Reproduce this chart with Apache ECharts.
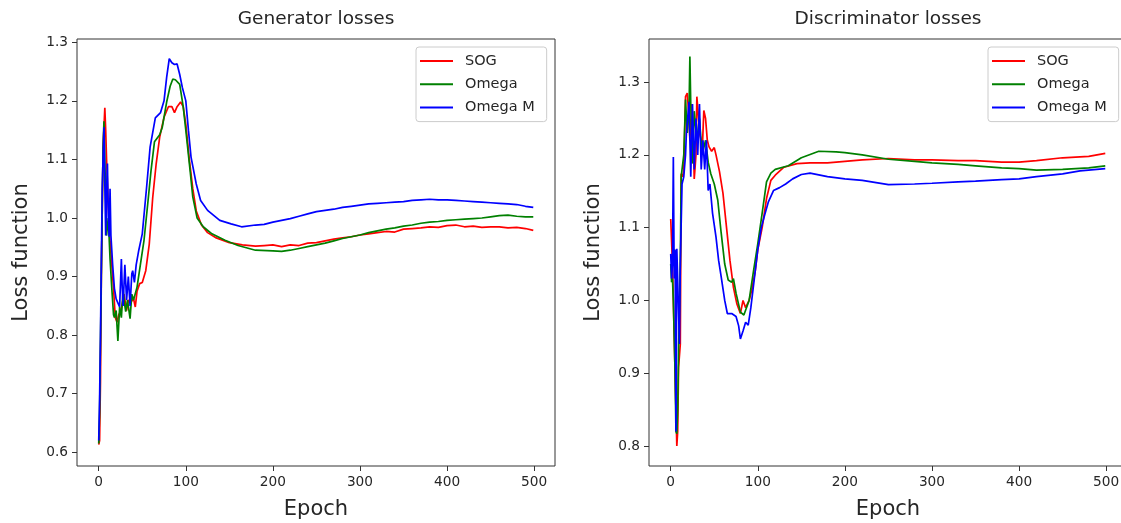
<!DOCTYPE html>
<html>
<head>
<meta charset="utf-8">
<script src="https://cdn.jsdelivr.net/npm/echarts@6/dist/echarts.min.js"></script>
<style>
html,body{margin:0;padding:0;background:#fff;}
#chart{width:1121px;height:523px;}
</style>
</head>
<body>
<div id="chart"></div>
<script>
// ---------- data ----------
const seriesNames = ['SOG', 'Omega', 'Omega M'];
const xTicks = [0, 100, 200, 300, 400, 500];
const genYTicks = [0.6, 0.7, 0.8, 0.9, 1.0, 1.1, 1.2, 1.3];
const discYTicks = [0.8, 0.9, 1.0, 1.1, 1.2, 1.3];

// Generator losses
const genSOG_x = [0,1,2,3,5,7,8,9,11,13,15,17,19,21,23,25,27,29,30,32,34,36,38,40,42,44,47,50,54,58,62,66,70,75,80,84,87,90,94,97,100,104,108,112,118,125,135,150,165,180,190,200,210,220,230,240,250,260,270,280,290,300,310,320,330,340,350,360,370,380,390,400,410,420,430,440,450,460,470,480,490,499];
const genSOG_y = [0.613,0.62,0.72,0.9,1.12,1.188,1.15,1.1,1.02,0.96,0.92,0.88,0.83,0.822,0.835,0.84,0.853,0.87,0.871,0.842,0.86,0.855,0.852,0.862,0.848,0.875,0.888,0.89,0.91,0.955,1.035,1.093,1.138,1.172,1.19,1.19,1.18,1.19,1.198,1.19,1.16,1.1,1.05,1.012,0.988,0.975,0.966,0.958,0.954,0.952,0.953,0.954,0.951,0.954,0.953,0.957,0.958,0.961,0.964,0.966,0.968,0.971,0.973,0.975,0.977,0.976,0.981,0.982,0.983,0.985,0.984,0.987,0.988,0.985,0.986,0.984,0.985,0.985,0.983,0.984,0.982,0.979];

const genOmega_x = [0,1,3,5,6,7,9,11,13,15,17,18,20,22,24,26,28,30,31,33,36,38,40,44,48,52,56,60,64,70,73,78,82,85,88,93,97,100,105,108,113,120,130,145,160,180,200,210,220,230,240,250,260,270,280,290,300,310,320,330,340,350,360,370,380,390,400,410,420,430,440,450,460,470,480,490,499];
const genOmega_y = [0.615,0.668,0.9,1.12,1.165,1.1,0.97,1.0,0.93,0.88,0.835,0.83,0.842,0.79,0.848,0.83,0.877,0.85,0.84,0.86,0.828,0.87,0.86,0.882,0.922,0.962,1.02,1.08,1.13,1.142,1.155,1.198,1.225,1.237,1.236,1.228,1.19,1.15,1.08,1.036,1.0,0.985,0.973,0.962,0.953,0.945,0.944,0.943,0.945,0.948,0.951,0.954,0.957,0.961,0.965,0.968,0.971,0.975,0.978,0.981,0.983,0.986,0.988,0.991,0.993,0.994,0.996,0.997,0.998,0.999,1.0,1.002,1.004,1.005,1.003,1.002,1.002];

const genOmegaM_x = [0,1,2,4,6,7,8,9,10,11,12,13,14,16,18,20,22,24,26,27,28,30,32,34,36,38,39,41,43,46,50,55,59,65,71,75,78,81,84,87,90,93,96,100,103,106,112,117,125,139,152,164,180,190,200,210,220,230,240,250,260,270,280,290,300,310,320,330,340,350,360,370,380,390,400,410,420,430,440,450,460,470,480,490,499];
const genOmegaM_y = [0.62,0.69,0.8,1.05,1.155,1.06,0.97,1.05,1.093,1.0,0.968,1.05,0.97,0.92,0.88,0.862,0.86,0.848,0.93,0.88,0.85,0.92,0.86,0.9,0.85,0.905,0.91,0.89,0.92,0.945,0.973,1.053,1.121,1.171,1.18,1.2,1.24,1.272,1.265,1.262,1.263,1.245,1.223,1.2,1.15,1.104,1.058,1.03,1.013,0.996,0.99,0.985,0.988,0.989,0.993,0.996,0.999,1.003,1.007,1.011,1.013,1.015,1.018,1.02,1.022,1.024,1.025,1.026,1.027,1.028,1.03,1.031,1.032,1.031,1.031,1.03,1.029,1.028,1.027,1.026,1.025,1.024,1.023,1.02,1.018];

// Discriminator losses
const discSOG_x = [0,2,4,6,7,8,9,10,11,12,14,15,17,19,21,22,24,26,27,29,30,32,33,35,36,38,40,42,44,47,50,52,56,60,64,68,72,76,80,83,86,90,93,97,100,105,110,115,120,130,145,160,180,200,220,250,280,300,330,350,380,400,420,450,480,499];
const discSOG_y = [1.112,1.05,0.95,0.85,0.80,0.82,0.908,0.91,0.94,1.174,1.17,1.18,1.28,1.285,1.25,1.22,1.27,1.22,1.167,1.2,1.28,1.25,1.23,1.22,1.2,1.261,1.25,1.22,1.211,1.205,1.21,1.2,1.177,1.147,1.101,1.055,1.018,0.995,0.982,1.0,0.99,1.0,1.014,1.04,1.07,1.1,1.14,1.165,1.172,1.183,1.188,1.189,1.189,1.191,1.193,1.195,1.193,1.193,1.192,1.192,1.19,1.19,1.192,1.196,1.198,1.202];

const discOmega_x = [0,1,2,3,5,6,7,8,9,11,12,14,15,17,19,21,22,23,25,27,30,33,36,40,43,46,50,54,58,62,66,70,72,75,80,84,87,90,95,100,105,110,115,120,135,150,170,190,200,220,250,280,300,330,350,380,400,420,450,480,499];
const discOmega_y = [1.05,1.025,1.03,1.0,0.9,0.82,0.817,0.85,0.93,1.05,1.17,1.19,1.2,1.276,1.23,1.26,1.335,1.27,1.188,1.26,1.22,1.25,1.2,1.22,1.19,1.174,1.16,1.138,1.092,1.05,1.028,1.025,1.03,1.01,0.984,0.98,0.99,1.0,1.04,1.078,1.12,1.163,1.175,1.18,1.185,1.196,1.205,1.204,1.203,1.2,1.194,1.191,1.189,1.187,1.185,1.182,1.181,1.179,1.18,1.182,1.185];

const discOmegaM_x = [0,1,2,3,4,5,6,7,9,10,11,13,15,17,18,21,23,25,27,29,31,33,35,37,39,41,43,45,48,52,55,58,62,65,70,75,78,80,83,86,89,92,96,100,104,108,112,118,125,132,140,150,160,180,200,220,250,280,300,330,350,380,400,420,450,470,499];
const discOmegaM_y = [1.064,1.03,1.05,1.197,1.03,1.07,0.82,1.071,1.07,0.94,1.05,1.16,1.17,1.2,1.23,1.273,1.17,1.27,1.18,1.25,1.2,1.27,1.18,1.22,1.18,1.22,1.151,1.16,1.12,1.087,1.055,1.032,1.0,0.982,0.982,0.978,0.965,0.947,0.958,0.97,0.966,0.99,1.03,1.07,1.1,1.118,1.135,1.151,1.155,1.16,1.167,1.173,1.175,1.17,1.167,1.165,1.159,1.16,1.161,1.163,1.164,1.166,1.167,1.17,1.174,1.178,1.181];

// ---------- chart ----------
const zip = (xs, ys) => xs.map((x, i) => [x, ys[i]]);
const colors = ['#ff0000', '#008000', '#0000ff'];
const FONT = 'DejaVu Sans';
const TXT = '#262626';

function xAxisCfg(gi) {
  return {
    type: 'value', gridIndex: gi, min: -24.95, max: 523.95,
    name: 'Epoch', nameLocation: 'middle', nameGap: 33,
    nameTextStyle: {fontFamily: FONT, fontSize: 21, color: TXT},
    axisLine: {show: false, onZero: false},
    axisTick: {show: true, inside: false, length: 5, customValues: xTicks, lineStyle: {color: '#333', width: 1}},
    axisLabel: {show: true, customValues: xTicks, margin: 9, fontFamily: FONT, fontSize: 13.7, color: TXT},
    splitLine: {show: false}
  };
}
function yAxisCfg(gi, min, max, ticks) {
  return {
    type: 'value', gridIndex: gi, min: min, max: max,
    name: 'Loss function', nameLocation: 'middle', nameGap: 45, nameRotate: 90,
    nameTextStyle: {fontFamily: FONT, fontSize: 21, color: TXT},
    axisLine: {show: false, onZero: false},
    axisTick: {show: true, inside: false, length: 5, customValues: ticks, lineStyle: {color: '#333', width: 1}},
    axisLabel: {show: true, customValues: ticks, margin: 9, fontFamily: FONT, fontSize: 13.7, color: TXT,
      formatter: v => v.toFixed(1)},
    splitLine: {show: false}
  };
}
function legendCfg(left) {
  return {
    show: true, orient: 'vertical', left: left, top: 47,
    data: seriesNames,
    icon: 'rect', itemWidth: 33, itemHeight: 2, itemGap: 7.3,
    padding: [6, 12, 6, 4],
    backgroundColor: 'rgba(255,255,255,0.8)', borderColor: '#cccccc', borderWidth: 1, borderRadius: 3,
    textStyle: {fontFamily: FONT, fontSize: 14.5, color: TXT, lineHeight: 16, padding: [0, 0, 0, 7]},
    selectedMode: false
  };
}
function lineSeries(name, data, color, gi) {
  return {
    type: 'line', name: name, data: data, xAxisIndex: gi, yAxisIndex: gi,
    showSymbol: false, symbol: 'none', smooth: false,
    lineStyle: {color: color, width: 1.7}, itemStyle: {color: color},
    emphasis: {disabled: true}, z: 2
  };
}

const chart = echarts.init(document.getElementById('chart'), null, {renderer: 'canvas'});
chart.setOption({
  animation: false,
  backgroundColor: '#ffffff',
  title: [
    {text: 'Generator losses', left: 316, top: 10, textAlign: 'center', padding: 0,
     textStyle: {fontFamily: FONT, fontSize: 18.5, fontWeight: 'normal', color: TXT}},
    {text: 'Discriminator losses', left: 888, top: 10, textAlign: 'center', padding: 0,
     textStyle: {fontFamily: FONT, fontSize: 18.5, fontWeight: 'normal', color: TXT}}
  ],
  grid: [
    {left: 77, top: 39, width: 478, height: 427, show: true, borderColor: '#333', borderWidth: 1,
     backgroundColor: 'transparent', outerBoundsMode: 'none', containLabel: false},
    {left: 649, top: 39, width: 478, height: 427, show: true, borderColor: '#333', borderWidth: 1,
     backgroundColor: 'transparent', outerBoundsMode: 'none', containLabel: false}
  ],
  xAxis: [xAxisCfg(0), xAxisCfg(1)],
  yAxis: [yAxisCfg(0, 0.5766, 1.3056, genYTicks), yAxisCfg(1, 0.7725, 1.3592, discYTicks)],
  legend: [legendCfg(416), legendCfg(988)],
  series: [
    lineSeries('SOG', zip(genSOG_x, genSOG_y), colors[0], 0),
    lineSeries('Omega', zip(genOmega_x, genOmega_y), colors[1], 0),
    lineSeries('Omega M', zip(genOmegaM_x, genOmegaM_y), colors[2], 0),
    lineSeries('SOG', zip(discSOG_x, discSOG_y), colors[0], 1),
    lineSeries('Omega', zip(discOmega_x, discOmega_y), colors[1], 1),
    lineSeries('Omega M', zip(discOmegaM_x, discOmegaM_y), colors[2], 1)
  ]
});
</script>
</body>
</html>
